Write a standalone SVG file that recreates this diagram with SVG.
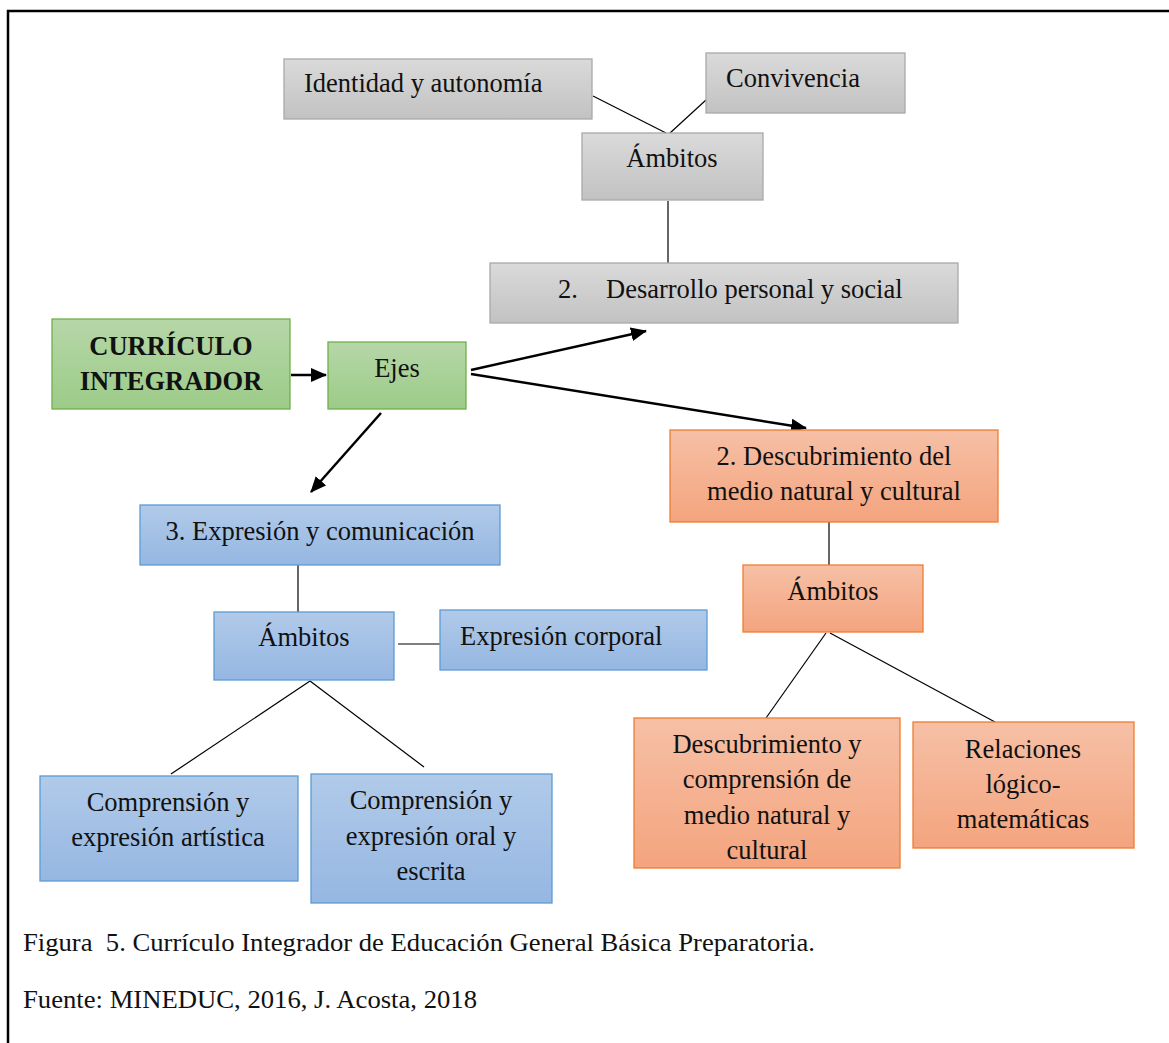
<svg xmlns="http://www.w3.org/2000/svg" width="1169" height="1043" viewBox="0 0 1169 1043">
<defs>
<linearGradient id="gGray" x1="0" y1="0" x2="0" y2="1"><stop offset="0" stop-color="#dadada"/><stop offset="1" stop-color="#c2c2c2"/></linearGradient>
<linearGradient id="gGreen" x1="0" y1="0" x2="0" y2="1"><stop offset="0" stop-color="#b6d7a8"/><stop offset="1" stop-color="#9ccb88"/></linearGradient>
<linearGradient id="gBlue" x1="0" y1="0" x2="0" y2="1"><stop offset="0" stop-color="#b1cae9"/><stop offset="1" stop-color="#95b7e2"/></linearGradient>
<linearGradient id="gOrange" x1="0" y1="0" x2="0" y2="1"><stop offset="0" stop-color="#f6c0a6"/><stop offset="1" stop-color="#f4a47e"/></linearGradient>
<marker id="arrL" markerWidth="16" markerHeight="14" refX="15" refY="7" orient="auto" markerUnits="userSpaceOnUse" viewBox="0 0 16 14"><path d="M0,0 L16,7 L0,14 z" fill="#000"/></marker>
</defs>
<style>
text{font-family:"Liberation Serif","Times New Roman",serif;font-size:26.5px;fill:#111;}
.c{text-anchor:middle;}
.b{font-weight:bold;}
.cap{font-size:25px;}
.gray{fill:url(#gGray);stroke:#a9a9a9;stroke-width:1.3;}
.green{fill:url(#gGreen);stroke:#6fb04a;stroke-width:1.3;}
.blue{fill:url(#gBlue);stroke:#5b9bd5;stroke-width:1.3;}
.orange{fill:url(#gOrange);stroke:#ed7d31;stroke-width:1.3;}
.ln{stroke:#000;stroke-width:1.2;fill:none;}
.ar{stroke:#000;stroke-width:2.5;fill:none;marker-end:url(#arrL);}
</style>
<rect x="0" y="0" width="1169" height="1043" fill="#fff"/>
<path d="M8,1043 V11 H1169" fill="none" stroke="#000" stroke-width="2.5"/>

<g id="connectors">
<line class="ln" x1="593" y1="96" x2="666" y2="133"/>
<line class="ln" x1="706" y1="100" x2="670" y2="133"/>
<line class="ln" x1="668" y1="201" x2="668" y2="263"/>
<line class="ar" x1="291" y1="375" x2="326" y2="375"/>
<line class="ar" x1="471" y1="370" x2="646" y2="331"/>
<line class="ar" x1="471" y1="374" x2="806" y2="428"/>
<line class="ar" x1="381" y1="413" x2="311" y2="492"/>
<line class="ln" x1="829" y1="522" x2="829" y2="565"/>
<line class="ln" x1="826" y1="633" x2="766" y2="718"/>
<line class="ln" x1="830" y1="633" x2="995" y2="722"/>
<line class="ln" x1="298" y1="565" x2="298" y2="612"/>
<line class="ln" x1="398" y1="644" x2="440" y2="644"/>
<line class="ln" x1="310" y1="681" x2="171" y2="774"/>
<line class="ln" x1="310" y1="681" x2="424" y2="767"/>
</g>

<g id="identidad"><rect class="gray" x="284" y="59" width="308" height="60"/><text x="304" y="92">Identidad y autonomía</text></g>
<g id="convivencia"><rect class="gray" x="706" y="53" width="199" height="60"/><text x="726" y="87">Convivencia</text></g>
<g id="ambitos1"><rect class="gray" x="582" y="133" width="181" height="67"/><text class="c" x="672" y="167">Ámbitos</text></g>
<g id="desarrollo"><rect class="gray" x="490" y="263" width="468" height="60"/><text x="558" y="298">2.</text><text x="606" y="298">Desarrollo personal y social</text></g>
<g id="curriculo"><rect class="green" x="52" y="319" width="238" height="90"/><text class="c b" x="171" y="355">CURRÍCULO</text><text class="c b" x="171" y="390">INTEGRADOR</text></g>
<g id="ejes"><rect class="green" x="328" y="342" width="138" height="67"/><text class="c" x="397" y="377">Ejes</text></g>
<g id="descubrimiento"><rect class="orange" x="670" y="430" width="328" height="92"/><text class="c" x="834" y="465">2. Descubrimiento del</text><text class="c" x="834" y="500">medio natural y cultural</text></g>
<g id="expresion"><rect class="blue" x="140" y="505" width="360" height="60"/><text class="c" x="320" y="540">3. Expresión y comunicación</text></g>
<g id="ambitos2"><rect class="blue" x="214" y="612" width="180" height="68"/><text class="c" x="304" y="646">Ámbitos</text></g>
<g id="corporal"><rect class="blue" x="440" y="610" width="267" height="60"/><text x="460" y="645">Expresión corporal</text></g>
<g id="artistica"><rect class="blue" x="40" y="776" width="258" height="105"/><text class="c" x="168" y="811">Comprensión y</text><text class="c" x="168" y="846">expresión artística</text></g>
<g id="oral"><rect class="blue" x="311" y="774" width="241" height="129"/><text class="c" x="431" y="809">Comprensión y</text><text class="c" x="431" y="845">expresión oral y</text><text class="c" x="431" y="880">escrita</text></g>
<g id="ambitos3"><rect class="orange" x="743" y="565" width="180" height="67"/><text class="c" x="833" y="600">Ámbitos</text></g>
<g id="descomp"><rect class="orange" x="634" y="718" width="266" height="150"/><text class="c" x="767" y="753">Descubrimiento y</text><text class="c" x="767" y="788">comprensión de</text><text class="c" x="767" y="824">medio natural y</text><text class="c" x="767" y="859">cultural</text></g>
<g id="relaciones"><rect class="orange" x="913" y="722" width="221" height="126"/><text class="c" x="1023" y="758">Relaciones</text><text class="c" x="1023" y="793">lógico-</text><text class="c" x="1023" y="828">matemáticas</text></g>

<g id="caption">
<text class="cap" x="23" y="951" textLength="792" lengthAdjust="spacingAndGlyphs" xml:space="preserve">Figura  5. Currículo Integrador de Educación General Básica Preparatoria.</text>
<text class="cap" x="23" y="1008" textLength="454" lengthAdjust="spacingAndGlyphs">Fuente: MINEDUC, 2016, J. Acosta, 2018</text>
</g>
</svg>
